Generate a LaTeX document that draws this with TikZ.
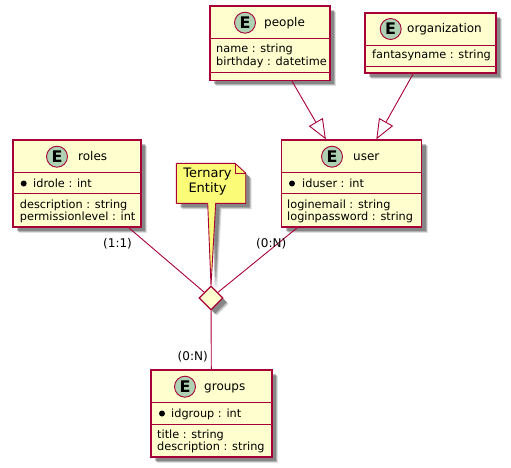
\documentclass[tikz,border=0pt]{standalone}
\usepackage{fontspec}
\setmainfont{DejaVu Sans}
\usetikzlibrary{arrows.meta,shapes.geometric,shadows}
\definecolor{umlline}{HTML}{A80036}
\definecolor{umlfill}{HTML}{FEFECE}
\definecolor{umlbadge}{HTML}{ADD1B2}
\definecolor{umlnote}{HTML}{FBFB77}
\tikzset{
  softshadow/.style={
    drop shadow={shadow xshift=6pt,shadow yshift=-6pt,fill=black,opacity=0.12},
    drop shadow={shadow xshift=5pt,shadow yshift=-5pt,fill=black,opacity=0.2},
    drop shadow={shadow xshift=4pt,shadow yshift=-4pt,fill=black,opacity=0.25}},
  entity/.style={draw=umlline, fill=umlfill, line width=1.3pt, inner sep=0pt, softshadow},
  sepline/.style={draw=umlline, line width=0.9pt},
  link/.style={draw=umlline, line width=0.9pt},
  isa/.style={link, -{Triangle[open,fill=white,length=20pt,width=16pt]}},
  badge/.style={circle, draw=umlline, fill=umlbadge, line width=0.9pt, minimum size=21pt, inner sep=0pt, font=\fontsize{16}{16}\selectfont\bfseries},
  bullet/.style={circle, fill=black, minimum size=6pt, inner sep=0pt},
  head/.style={anchor=base west, inner sep=0pt, font=\fontsize{12}{12}\selectfont},
  member/.style={anchor=base west, inner sep=0pt, font=\fontsize{11.3}{11.3}\selectfont},
  card/.style={anchor=base west, inner sep=0pt, font=\fontsize{12}{12}\selectfont},
}
\begin{document}
\begin{tikzpicture}[x=1pt, y=-1pt]
  \useasboundingbox (0,0) rectangle (511,468);
  % boxes
  \node[entity, minimum width=120pt, minimum height=74.5pt] (people) at (270,43.25) {};
  \node[entity, minimum width=131pt, minimum height=60pt] (organization) at (430.5,43) {};
  \node[entity, minimum width=140pt, minimum height=87pt] (user) at (351.5,183.5) {};
  \node[entity, minimum width=128pt, minimum height=87pt] (roles) at (77,183.5) {};
  \node[entity, minimum width=121pt, minimum height=87pt] (groups) at (211.5,413.5) {};
  \node[diamond, aspect=1, draw=umlline, fill=umlfill, line width=1.3pt, minimum size=24pt, inner sep=0pt, softshadow] (rel) at (211,298) {};
  % lines
  \draw[isa] (people) -- (user);
  \draw[isa] (organization) -- (user);
  \draw[link] (roles) -- (rel);
  \draw[link] (user) -- (rel);
  \draw[link] (rel) -- (groups);
  % note
  \draw[draw=umlline, fill=umlnote, line width=0.9pt, softshadow] (176.3,163.3) -- (235,163.3) -- (245.7,173) -- (245.7,203.3) -- (215.7,203.3) -- (rel.north) -- (207.7,203.3) -- (176.3,203.3) -- cycle;
  \draw[draw=umlline, line width=0.9pt] (235,163.3) -- (235,173) -- (245.7,173);
  \node[font=\fontsize{13}{15}\selectfont, align=center, inner sep=0pt] (notetext) at (207.5,182) {Ternary\\Entity};
  % people
  \draw[sepline] (210,38) -- (330,38);
  \draw[sepline] (210,72) -- (330,72);
  \node[badge] (peoplebadge) at (245,22.7) {E};
  \node[head] (peopletitle) at (264,27) {people};
  \node[member] (peoplename) at (216,53) {name : string};
  \node[member] (peoplebirth) at (216,66) {birthday : datetime};
  % organization
  \draw[sepline] (365,45) -- (496,45);
  \draw[sepline] (365,66) -- (496,66);
  \node[badge] (orgbadge) at (390.7,29) {E};
  \node[head] (orgtitle) at (407,33) {organization};
  \node[member] (orgname) at (372,59) {fantasyname : string};
  % user
  \draw[sepline] (281.5,172) -- (421.5,172);
  \draw[sepline] (281.5,193) -- (421.5,193);
  \node[badge] (userbadge) at (332,156.7) {E};
  \node[head] (usertitle) at (353,160.7) {user};
  \node[bullet] (userbullet) at (292,183.5) {};
  \node[member] (userid) at (302,187) {iduser : int};
  \node[member] (usermail) at (287,208) {loginemail : string};
  \node[member] (userpass) at (287,220) {loginpassword : string};
  % roles
  \draw[sepline] (13,172.5) -- (141,172.5);
  \draw[sepline] (13,193) -- (141,193);
  \node[badge] (rolesbadge) at (57,156.7) {E};
  \node[head] (rolestitle) at (78,160.7) {roles};
  \node[bullet] (rolesbullet) at (23.7,183.5) {};
  \node[member] (rolesid) at (33,187) {idrole : int};
  \node[member] (rolesdesc) at (19.7,208) {description : string};
  \node[member] (roleslevel) at (19.7,220) {permissionlevel : int};
  % groups
  \draw[sepline] (151,402) -- (272,402);
  \draw[sepline] (151,424) -- (272,424);
  \node[badge] (groupsbadge) at (185,386.7) {E};
  \node[head] (groupstitle) at (204,390.7) {groups};
  \node[bullet] (groupsbullet) at (162,413.5) {};
  \node[member] (groupsid) at (171,417) {idgroup : int};
  \node[member] (groupstext) at (157,438) {title : string};
  \node[member] (groupsdesc) at (157,450) {description : string};
  % cardinalities
  \node[card] (cardroles) at (103,247) {(1:1)};
  \node[card] (carduser) at (256,247) {(0:N)};
  \node[card] (cardgroups) at (177.5,360) {(0:N)};
\end{tikzpicture}
\end{document}
